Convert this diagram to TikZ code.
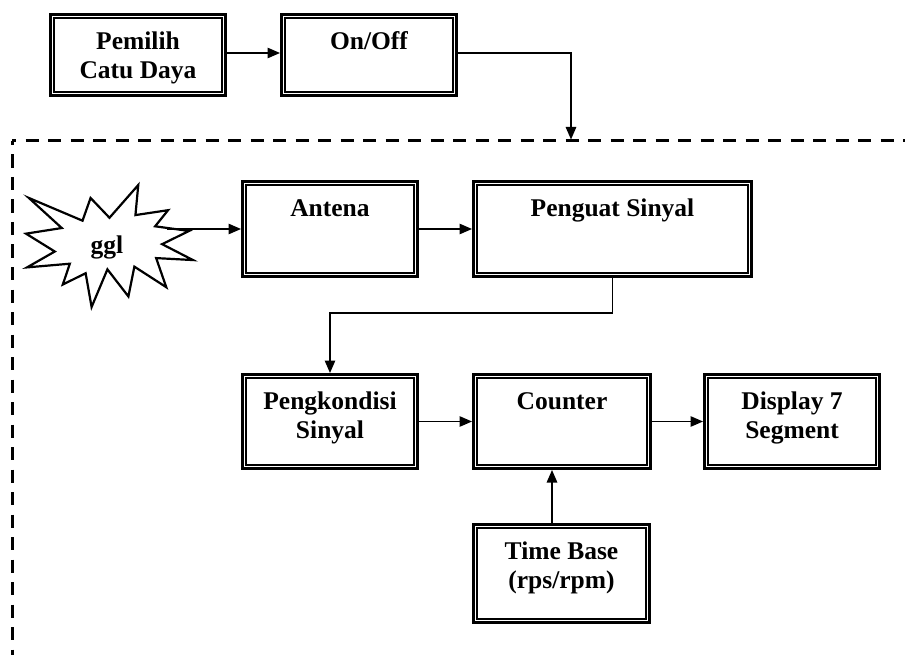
\documentclass[tikz,border=0pt]{standalone}
\usepackage{fontspec}
\setmainfont{Liberation Serif}
\usetikzlibrary{arrows.meta}
\newcommand\bxtxt[3]{\parbox[c][#2][t]{#1}{\centering\rule{0pt}{35pt}#3\par}}
\tikzset{
  bx/.style={draw, line width=2.8pt, inner sep=0pt, outer sep=1.4pt,
    font=\fontsize{25.5pt}{29pt}\selectfont\bfseries},
  bxinner/.style={draw, line width=1.2pt},
  conn/.style={line width=1.3pt, -{Triangle[length=12.5pt,width=10.5pt]}},
  frame/.style={line width=3pt, dash pattern=on 13.3pt off 9.2pt, dash phase=9pt},
  star/.style={line width=2.2pt, line join=miter, fill=white},
  lbl/.style={font=\fontsize{25.5pt}{29pt}\selectfont\bfseries, inner sep=0pt}
}
\begin{document}
\begin{tikzpicture}[x=1pt, y=-1pt]
\useasboundingbox (0,0) rectangle (905,655);
% dashed frame
\begin{scope}
\clip (0,0) rectangle (905,655);
\draw[frame] (12,141) -- (12,680);
\draw[frame] (12,141) -- (930,141);
\end{scope}
% boxes
\node[bx] (pem) at (138,55) {\bxtxt{175.2pt}{81.2pt}{Pemilih\\Catu Daya}};
\node[bx] (onoff) at (369,55) {\bxtxt{175.2pt}{81.2pt}{On/Off}};
\node[bx] (antena) at (330,229) {\bxtxt{175.2pt}{95.2pt}{Antena}};
\node[bx] (penguat) at (612.5,229) {\bxtxt{278.2pt}{95.2pt}{Penguat Sinyal}};
\node[bx] (pengk) at (330,421.5) {\bxtxt{175.2pt}{94.2pt}{Pengkondisi\\Sinyal}};
\node[bx] (counter) at (562,421.5) {\bxtxt{177.2pt}{94.2pt}{Counter}};
\node[bx] (display) at (792,421.5) {\bxtxt{175.2pt}{94.2pt}{Display 7\\Segment}};
\node[bx] (timebase) at (561.5,573.5) {\bxtxt{176.2pt}{98.2pt}{Time Base\\(rps/rpm)}};
\foreach \n in {pem,onoff,antena,penguat,pengk,counter,display,timebase}
  \draw[bxinner] ([shift={(5pt,-5pt)}]\n.north west) rectangle ([shift={(-5pt,5pt)}]\n.south east);
% explosion shape
\begin{scope}[shift={(26,185)}, x=0.7731pt, y=-0.5648pt]
\draw[star] (108.00,58.00) -- (145.22,0) -- (141.55,53.25) -- (183.80,44.57)
  -- (167.02,73.15) -- (210.97,81.37) -- (176.07,104.75) -- (216.00,132.90)
  -- (168.37,129.42) -- (181.45,180.95) -- (140.20,144.57) -- (132.47,197.37)
  -- (105.32,149.35) -- (84.85,216.00) -- (77.15,156.27) -- (47.62,176.17)
  -- (56.67,139.37) -- (1.35,145.87) -- (37.22,117.75) -- (0,86.15)
  -- (46.27,76.17) -- (3.70,22.95) -- (73.12,63.20) -- (83.52,22.95) -- cycle;
\end{scope}
\node[lbl, anchor=base] (ggl) at (107,254) {ggl};
\coordinate (gglout) at (167,229);
\coordinate (dtop) at (571,139.5);
% connectors
\draw[conn] ([yshift=2pt]pem.east) -- ([yshift=2pt]onoff.west);
\draw[conn] ([yshift=2pt]onoff.east) -| (dtop);
\draw[conn] (gglout) -- (antena.west);
\draw[conn] (antena.east) -- (penguat.west);
\draw[conn] (penguat.south) -- ++(0,35) -| (pengk.north);
\draw[conn] (pengk.east) -- (counter.west);
\draw[conn] (counter.east) -- (display.west);
\draw[conn] ([xshift=-9.5pt]timebase.north) -- ([xshift=-10pt]counter.south);
\end{tikzpicture}
\end{document}
